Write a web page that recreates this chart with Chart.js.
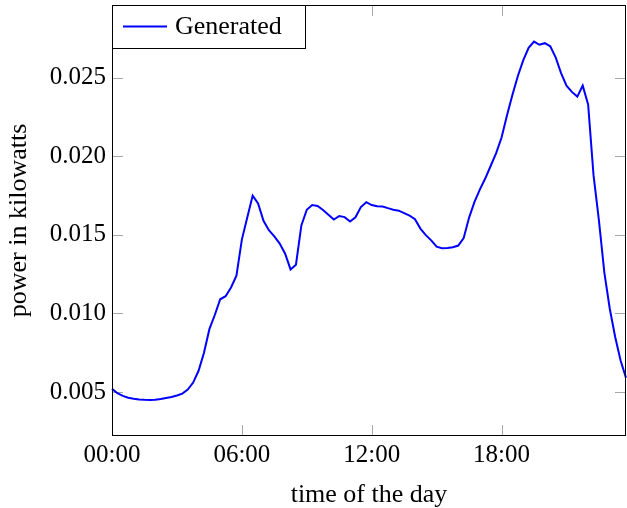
<!DOCTYPE html>
<html>
<head>
<meta charset="utf-8">
<script src="https://cdn.jsdelivr.net/npm/chart.js@4.4.0/dist/chart.umd.min.js"></script>
<style>
  html, body { margin: 0; padding: 0; background: #fff; }
  canvas { display: block; }
</style>
</head>
<body>
<canvas id="myChart" width="627" height="508"></canvas>
<script>
var times = [
  '00:00','00:15','00:30','00:45','01:00','01:15','01:30','01:45',
  '02:00','02:15','02:30','02:45','03:00','03:15','03:30','03:45',
  '04:00','04:15','04:30','04:45','05:00','05:15','05:30','05:45',
  '06:00','06:15','06:30','06:45','07:00','07:15','07:30','07:45',
  '08:00','08:15','08:30','08:45','09:00','09:15','09:30','09:45',
  '10:00','10:15','10:30','10:45','11:00','11:15','11:30','11:45',
  '12:00','12:15','12:30','12:45','13:00','13:15','13:30','13:45',
  '14:00','14:15','14:30','14:45','15:00','15:15','15:30','15:45',
  '16:00','16:15','16:30','16:45','17:00','17:15','17:30','17:45',
  '18:00','18:15','18:30','18:45','19:00','19:15','19:30','19:45',
  '20:00','20:15','20:30','20:45','21:00','21:15','21:30','21:45',
  '22:00','22:15','22:30','22:45','23:00','23:15','23:30','23:45'
];
var power = [
  0.00520, 0.00492, 0.00475, 0.00463, 0.00457, 0.00452, 0.00450, 0.00449,
  0.00450, 0.00455, 0.00462, 0.00468, 0.00478, 0.00490, 0.00515, 0.00560,
  0.00635, 0.00750, 0.00900, 0.00990, 0.01090, 0.01110, 0.01165, 0.01240,
  0.01470, 0.01610, 0.01750, 0.01700, 0.01590, 0.01530, 0.01490, 0.01445,
  0.01380, 0.01280, 0.01310, 0.01560, 0.01660, 0.01690, 0.01684, 0.01658,
  0.01628, 0.01598, 0.01620, 0.01613, 0.01585, 0.01612, 0.01677, 0.01708,
  0.01690, 0.01682, 0.01681, 0.01670, 0.01660, 0.01654, 0.01638, 0.01622,
  0.01600, 0.01540, 0.01498, 0.01465, 0.01425, 0.01415, 0.01416, 0.01421,
  0.01432, 0.01480, 0.01610, 0.01710, 0.01790, 0.01860, 0.01940, 0.02020,
  0.02120, 0.02260, 0.02390, 0.02510, 0.02610, 0.02690, 0.02730, 0.02710,
  0.02720, 0.02700, 0.02630, 0.02530, 0.02450, 0.02410, 0.02380, 0.02450,
  0.02330, 0.01880, 0.01590, 0.01260, 0.01030, 0.00850, 0.00700, 0.00590
];
var xTicks = ['00:00', '06:00', '12:00', '18:00'];
var yTicks = [0.005, 0.010, 0.015, 0.020, 0.025];

Chart.defaults.font.family = "'Liberation Serif', serif";
Chart.defaults.font.size = 25;
Chart.defaults.color = '#000';

// pgfplots style box: inward ticks on every side, black frame, boxed legend
var frame = {
  id: 'frame',
  beforeDatasetsDraw: function(chart) {
    var c = chart.ctx, a = chart.chartArea;
    var x = chart.scales.x, y = chart.scales.y;
    c.save();
    c.strokeStyle = '#a8a8a8';
    c.lineWidth = 1;
    c.beginPath();
    x.ticks.forEach(function(t, i) {
      var px = Math.round(x.getPixelForTick(i)) + 0.5;
      c.moveTo(px, a.bottom); c.lineTo(px, a.bottom - 11);
      c.moveTo(px, a.top); c.lineTo(px, a.top + 11);
    });
    y.ticks.forEach(function(t, i) {
      var py = Math.round(y.getPixelForTick(i)) + 0.5;
      c.moveTo(a.left, py); c.lineTo(a.left + 11, py);
      c.moveTo(a.right, py); c.lineTo(a.right - 11, py);
    });
    c.stroke();
    c.restore();
  },
  afterDatasetsDraw: function(chart) {
    var c = chart.ctx, a = chart.chartArea;
    var ds = chart.data.datasets[0];
    c.save();
    c.strokeStyle = '#000';
    c.lineWidth = 1;
    c.strokeRect(a.left + 0.5, a.top + 0.5, a.right - a.left - 1, a.bottom - a.top - 1);

    c.fillStyle = '#fff';
    c.fillRect(a.left + 0.5, a.top + 0.5, 193, 43);
    c.strokeRect(a.left + 0.5, a.top + 0.5, 193, 43);
    c.strokeStyle = ds.borderColor;
    c.lineWidth = 2;
    c.beginPath();
    c.moveTo(a.left + 11, a.top + 21.5);
    c.lineTo(a.left + 55, a.top + 21.5);
    c.stroke();
    c.fillStyle = '#000';
    c.font = "26px 'Liberation Serif'";
    c.textBaseline = 'middle';
    c.fillText(ds.label, a.left + 63, a.top + 22);
    c.restore();
  }
};

var ctx = document.getElementById('myChart').getContext('2d');
var myChart = new Chart(ctx, {
  type: 'line',
  data: {
    labels: times,
    datasets: [{
      label: 'Generated',
      data: power,
      borderColor: '#0000ff',
      borderWidth: 2,
      pointRadius: 0,
      tension: 0,
      fill: false
    }]
  },
  options: {
    responsive: false,
    animation: false,
    devicePixelRatio: 1,
    layout: { padding: { top: 5, right: 1, left: 0, bottom: 0 } },
    plugins: {
      legend: { display: false },
      tooltip: { enabled: false }
    },
    scales: {
      x: {
        type: 'category',
        offset: false,
        grid: { display: false, drawTicks: false },
        border: { display: false },
        afterBuildTicks: function(scale) {
          scale.ticks = scale.ticks.filter(function(t) {
            return xTicks.indexOf(times[t.value]) >= 0;
          });
        },
        afterFit: function(scale) {
          scale.height = 72;
          scale.paddingLeft = 0;
          scale.paddingRight = 0;
        },
        ticks: {
          autoSkip: false,
          maxRotation: 0,
          padding: 4,
          callback: function(value) { return times[value]; }
        },
        title: {
          display: true,
          text: 'time of the day',
          font: { size: 26 },
          padding: { top: 0, bottom: -3 }
        }
      },
      y: {
        min: 0.0022,
        max: 0.02963,
        grid: { display: false, drawTicks: false },
        border: { display: false },
        afterBuildTicks: function(scale) {
          scale.ticks = yTicks.map(function(v) { return { value: v }; });
        },
        afterFit: function(scale) {
          scale.width = 112;
          scale.paddingTop = 0;
          scale.paddingBottom = 0;
        },
        ticks: {
          padding: 6,
          callback: function(value) { return value.toFixed(3); }
        },
        title: {
          display: true,
          text: 'power in kilowatts',
          font: { size: 26 },
          padding: { top: 4, bottom: 0 }
        }
      }
    }
  },
  plugins: [frame]
});
</script>
</body>
</html>
